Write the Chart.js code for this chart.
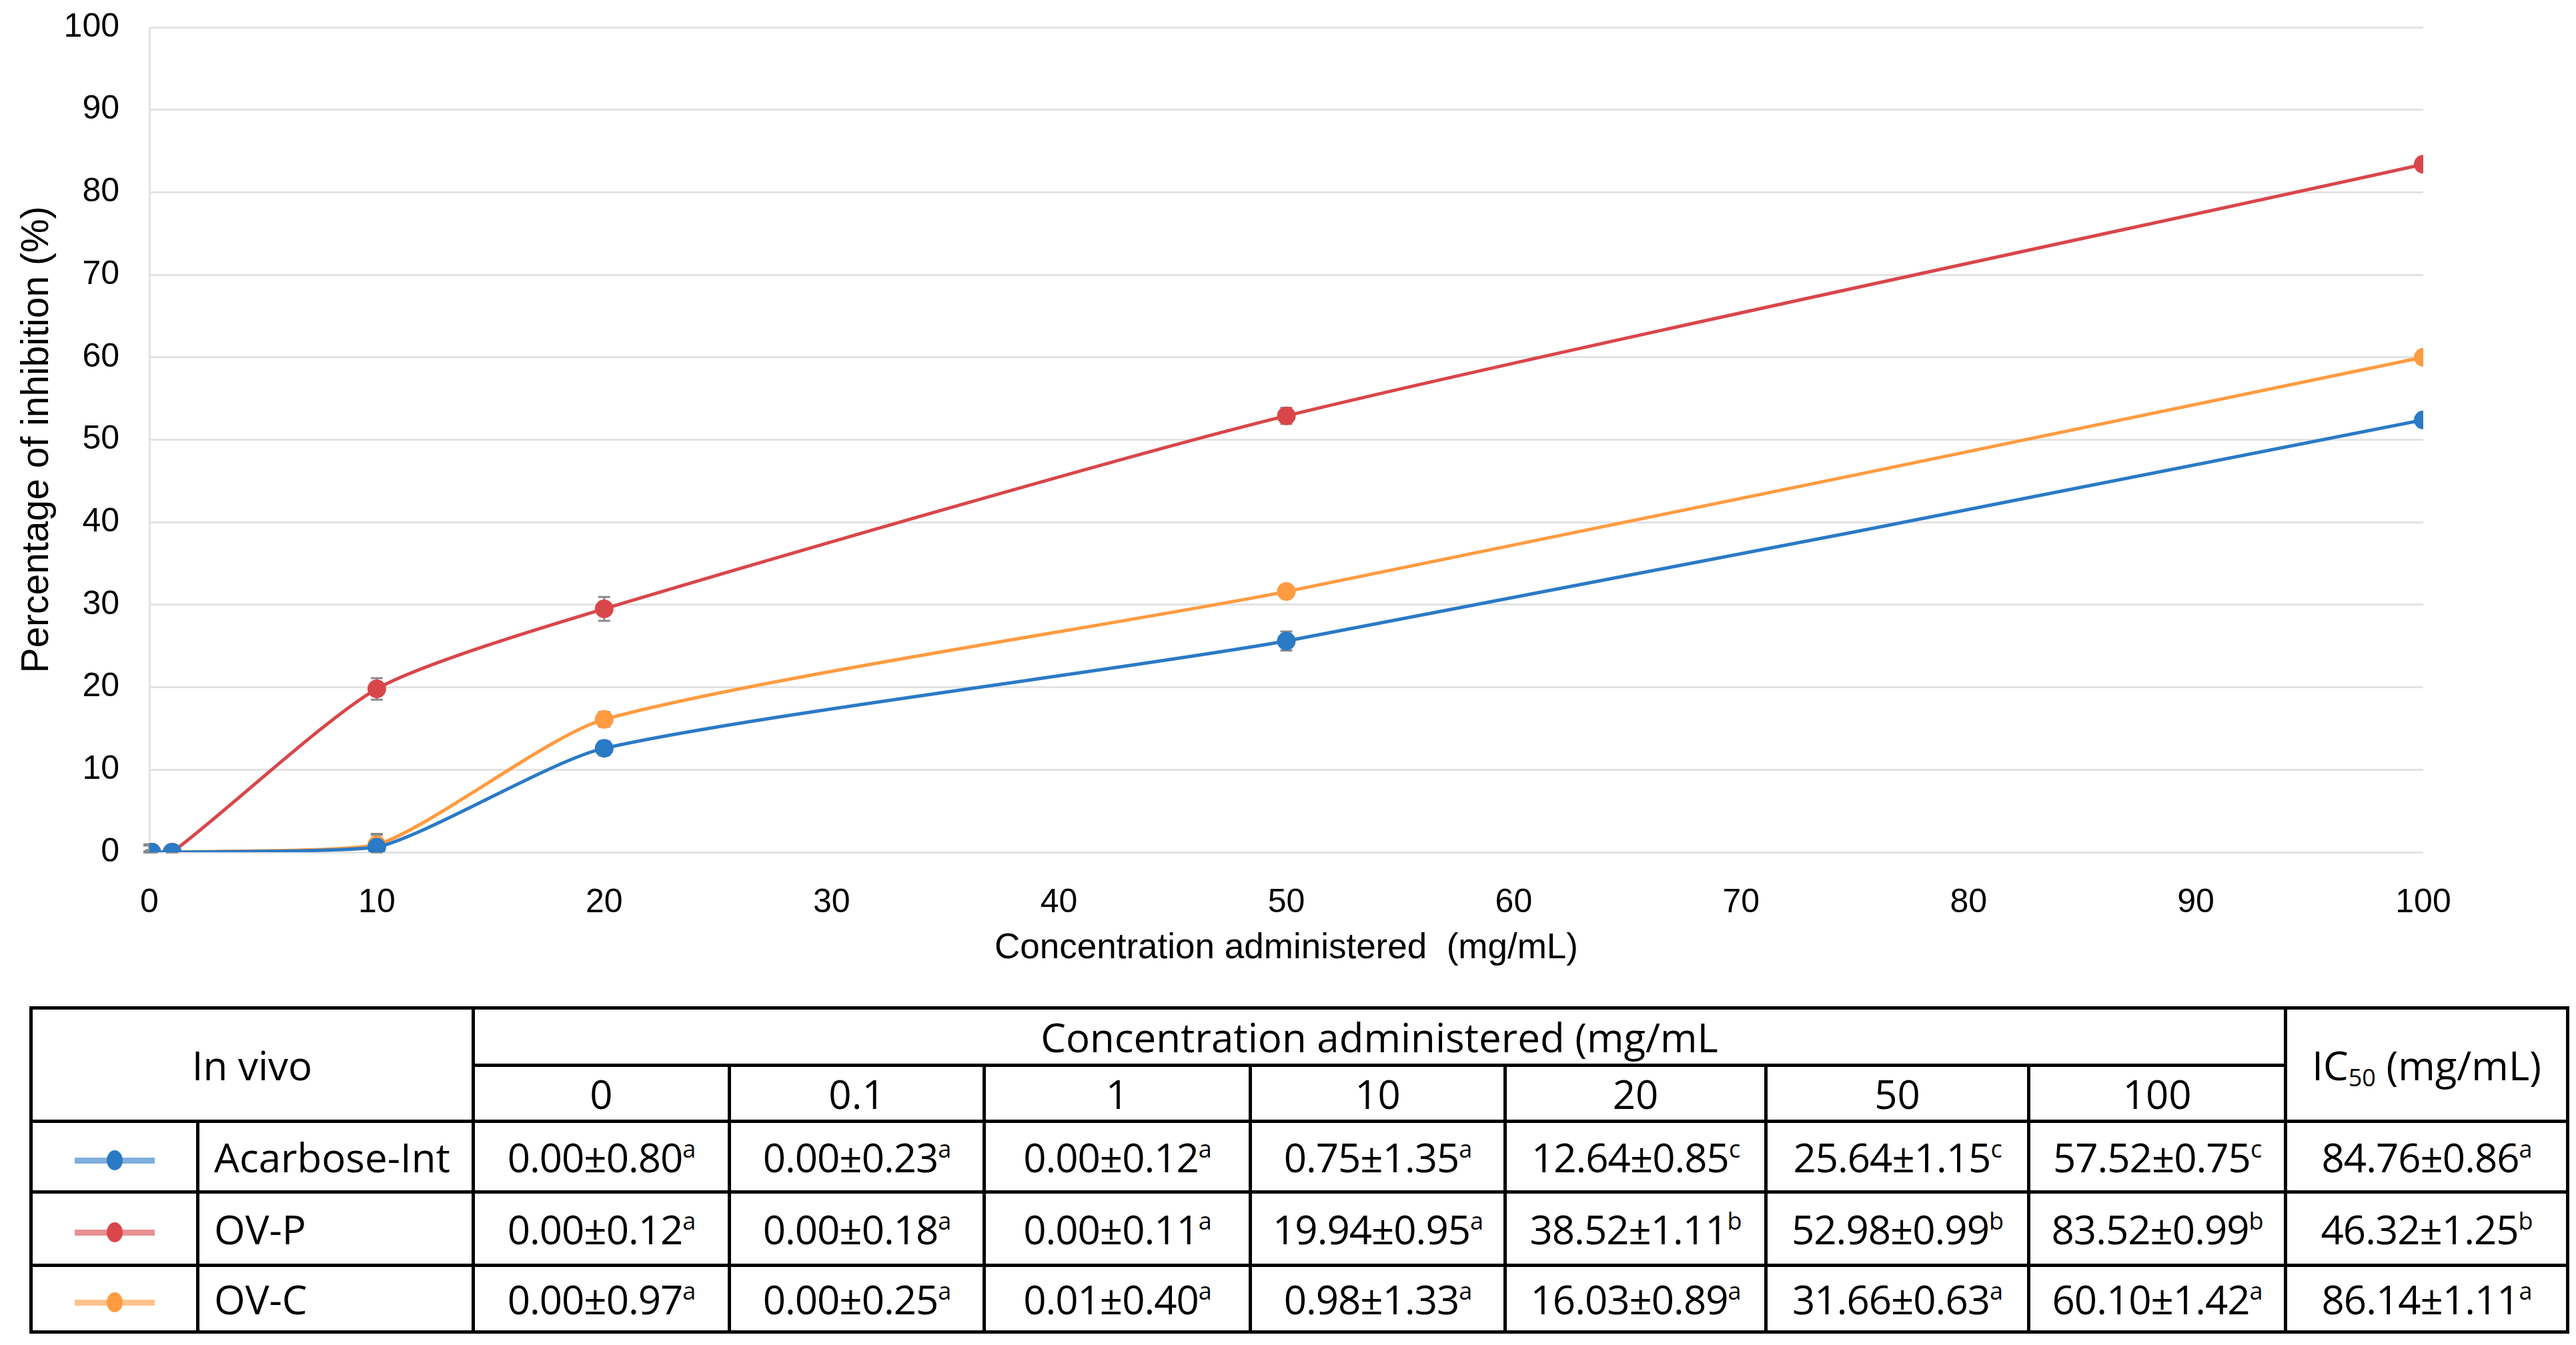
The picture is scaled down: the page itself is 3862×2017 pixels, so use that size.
<!DOCTYPE html>
<html lang="en">
<head>
<meta charset="UTF-8">
<title>Percentage of inhibition</title>
<script src="https://cdn.jsdelivr.net/npm/chart.js"></script>
<style>
    body { margin: 0; background: #fff; width: 3862px; height: 2017px; position: relative; overflow: hidden; }
    #caixa_grafico { position: absolute; left: 0; top: 0; width: 3862px; height: 1470px; }
    #tabela { position: absolute; left: 44px; top: 1509px; width: 3803px; border-collapse: collapse; table-layout: fixed;
              font-family: "Open Sans", sans-serif; font-size: 60px; color: #000; }
    #tabela td { border: 5px solid #000; text-align: center; padding: 0; white-space: nowrap; line-height: 1; }
    #tabela td.nome { text-align: left; padding-left: 22px; }
    #tabela td.valor { letter-spacing: -1px; }
    #tabela sup { font-size: 0.6em; vertical-align: baseline; position: relative; top: -0.6em; }
    #tabela sub { font-size: 0.6em; vertical-align: baseline; position: relative; top: 0.25em; }
    .icone { position: relative; width: 120px; height: 30px; margin: 10px auto 0 auto; }
    .icone .linha { position: absolute; left: 0; top: 11px; width: 120px; height: 9px; opacity: 0.6; }
    .icone .ponto { position: absolute; left: 48px; top: 0; width: 24px; height: 30px; border-radius: 50%; }
</style>
</head>
<body>
<div id="caixa_grafico"><canvas id="grafico_inibicao"></canvas></div>
<table id="tabela"></table>

<script>
    // concentrations on the x axis (mg/mL)
    const concentracoes = [0, 0.1, 1, 10, 20, 50, 100];
    const nomes_series = ['Acarbose-Int', 'OV-P', 'OV-C'];
    const cores_series = ['#2A7AC6', '#D9464A', '#FF9B40'];

    // values (%)
    const inibicao_acarbose = [0, 0, 0, 0.6, 12.6, 25.6, 52.4];
    const inibicao_ovp = [0, 0, 0, 19.8, 29.5, 52.9, 83.4];
    const inibicao_ovc = [0, 0, 0, 0.9, 16.1, 31.6, 60.0];

    // error bars as drawn (none shown at 100)
    const erro_acarbose = [0.80, 0.23, 0.12, 1.5, 0.85, 1.15, 0];
    const erro_ovp = [0.12, 0.18, 0.11, 1.3, 1.45, 0.99, 0];
    const erro_ovc = [0.97, 0.25, 0.40, 1.33, 0.89, 0.63, 0];

    // table text
    const cabecalho_conc = ['0', '0.1', '1', '10', '20', '50', '100'];
    const tabela_acarbose = ['0.00±0.80', '0.00±0.23', '0.00±0.12', '0.75±1.35', '12.64±0.85', '25.64±1.15', '57.52±0.75', '84.76±0.86'];
    const letras_acarbose = ['a', 'a', 'a', 'a', 'c', 'c', 'c', 'a'];
    const tabela_ovp = ['0.00±0.12', '0.00±0.18', '0.00±0.11', '19.94±0.95', '38.52±1.11', '52.98±0.99', '83.52±0.99', '46.32±1.25'];
    const letras_ovp = ['a', 'a', 'a', 'a', 'b', 'b', 'b', 'b'];
    const tabela_ovc = ['0.00±0.97', '0.00±0.25', '0.01±0.40', '0.98±1.33', '16.03±0.89', '31.66±0.63', '60.10±1.42', '86.14±1.11'];
    const letras_ovc = ['a', 'a', 'a', 'a', 'a', 'a', 'a', 'a'];

    const series_valores = [inibicao_acarbose, inibicao_ovp, inibicao_ovc];
    const series_erros = [erro_acarbose, erro_ovp, erro_ovc];
    const series_tabela = [tabela_acarbose, tabela_ovp, tabela_ovc];
    const series_letras = [letras_acarbose, letras_ovp, letras_ovc];

    const plugin_barras_erro = {
        id: 'barras_erro',
        beforeDatasetsDraw(chart) {
            const ctx = chart.ctx;
            const eixo_x = chart.scales.x;
            const eixo_y = chart.scales.y;
            ctx.save();
            ctx.strokeStyle = '#8a8a8a';
            ctx.lineWidth = 3;
            chart.data.datasets.forEach(function (ds) {
                ds.data.forEach(function (p, j) {
                    const e = ds.erros[j];
                    if (!e) return;
                    const px = eixo_x.getPixelForValue(p.x);
                    const topo = eixo_y.getPixelForValue(p.y + e);
                    const base = eixo_y.getPixelForValue(Math.max(0, p.y - e));
                    ctx.beginPath();
                    ctx.moveTo(px, topo); ctx.lineTo(px, base);
                    ctx.moveTo(px - 9, topo); ctx.lineTo(px + 9, topo);
                    ctx.moveTo(px - 9, base); ctx.lineTo(px + 9, base);
                    ctx.stroke();
                });
            });
            ctx.restore();
        }
    };

    const conjuntos = nomes_series.map(function (nome, i) {
        return {
            label: nome,
            data: concentracoes.map(function (c, j) { return { x: c, y: series_valores[i][j] }; }),
            erros: series_erros[i],
            borderColor: cores_series[i],
            backgroundColor: cores_series[i],
            borderWidth: 5,
            pointRadius: 14,
            pointBorderWidth: 0,
            pointHoverRadius: 14,
            tension: 0.22
        };
    });

    const cor_grade = '#e3e3e3';
    const grafico = new Chart(document.getElementById('grafico_inibicao'), {
        type: 'line',
        data: { datasets: conjuntos },
        plugins: [plugin_barras_erro],
        options: {
            responsive: true,
            maintainAspectRatio: false,
            animation: false,
            layout: { padding: { left: 0, right: 229, top: 41, bottom: 0 } },
            plugins: { legend: { display: false }, tooltip: { enabled: false } },
            scales: {
                x: {
                    type: 'linear', min: 0, max: 100,
                    afterFit: function (s) { s.height = 192; s.paddingLeft = 0; s.paddingRight = 0; },
                    grid: { display: false },
                    border: { display: false },
                    ticks: { stepSize: 10, padding: 38, color: '#000', font: { family: 'Liberation Sans', size: 50 } },
                    title: { display: true, text: 'Concentration administered  (mg/mL)', color: '#000',
                             font: { family: 'Liberation Sans', size: 53 }, padding: { top: 0, bottom: 16 } }
                },
                y: {
                    min: 0, max: 100,
                    afterFit: function (s) { s.width = 224; s.paddingTop = 0; s.paddingBottom = 0; },
                    grid: { color: cor_grade, lineWidth: 3, drawTicks: false },
                    border: { display: true, color: cor_grade, width: 3 },
                    ticks: { stepSize: 10, padding: 45, color: '#000', font: { family: 'Liberation Sans', size: 50 } },
                    title: { display: true, text: 'Percentage of inhibition (%)', color: '#000',
                             font: { family: 'Liberation Sans', size: 57 }, padding: { top: 22, bottom: 0 } }
                }
            }
        }
    });

    // table below the chart
    const larguras = [250, 413, 384, 382, 399, 382, 391, 394, 385, 423];
    const alturas = [86, 84, 106, 110, 100];
    let html = '<colgroup>' + larguras.map(function (w) { return '<col style="width:' + w + 'px">'; }).join('') + '</colgroup>';
    html += '<tr style="height:' + alturas[0] + 'px"><td colspan="2" rowspan="2">In vivo</td>'
          + '<td colspan="7">Concentration administered (mg/mL</td>'
          + '<td rowspan="2">IC<sub>50</sub> (mg/mL)</td></tr>';
    html += '<tr style="height:' + alturas[1] + 'px">' + cabecalho_conc.map(function (c) { return '<td>' + c + '</td>'; }).join('') + '</tr>';
    for (let i = 0; i < nomes_series.length; i++) {
        html += '<tr style="height:' + alturas[i + 2] + 'px">';
        html += '<td><div class="icone"><div class="linha" style="background:' + cores_series[i] + '"></div>'
              + '<div class="ponto" style="background:' + cores_series[i] + '"></div></div></td>';
        html += '<td class="nome">' + nomes_series[i] + '</td>';
        for (let j = 0; j < series_tabela[i].length; j++) {
            html += '<td class="valor">' + series_tabela[i][j] + '<sup>' + series_letras[i][j] + '</sup></td>';
        }
        html += '</tr>';
    }
    document.getElementById('tabela').innerHTML = html;
</script>
</body>
</html>
